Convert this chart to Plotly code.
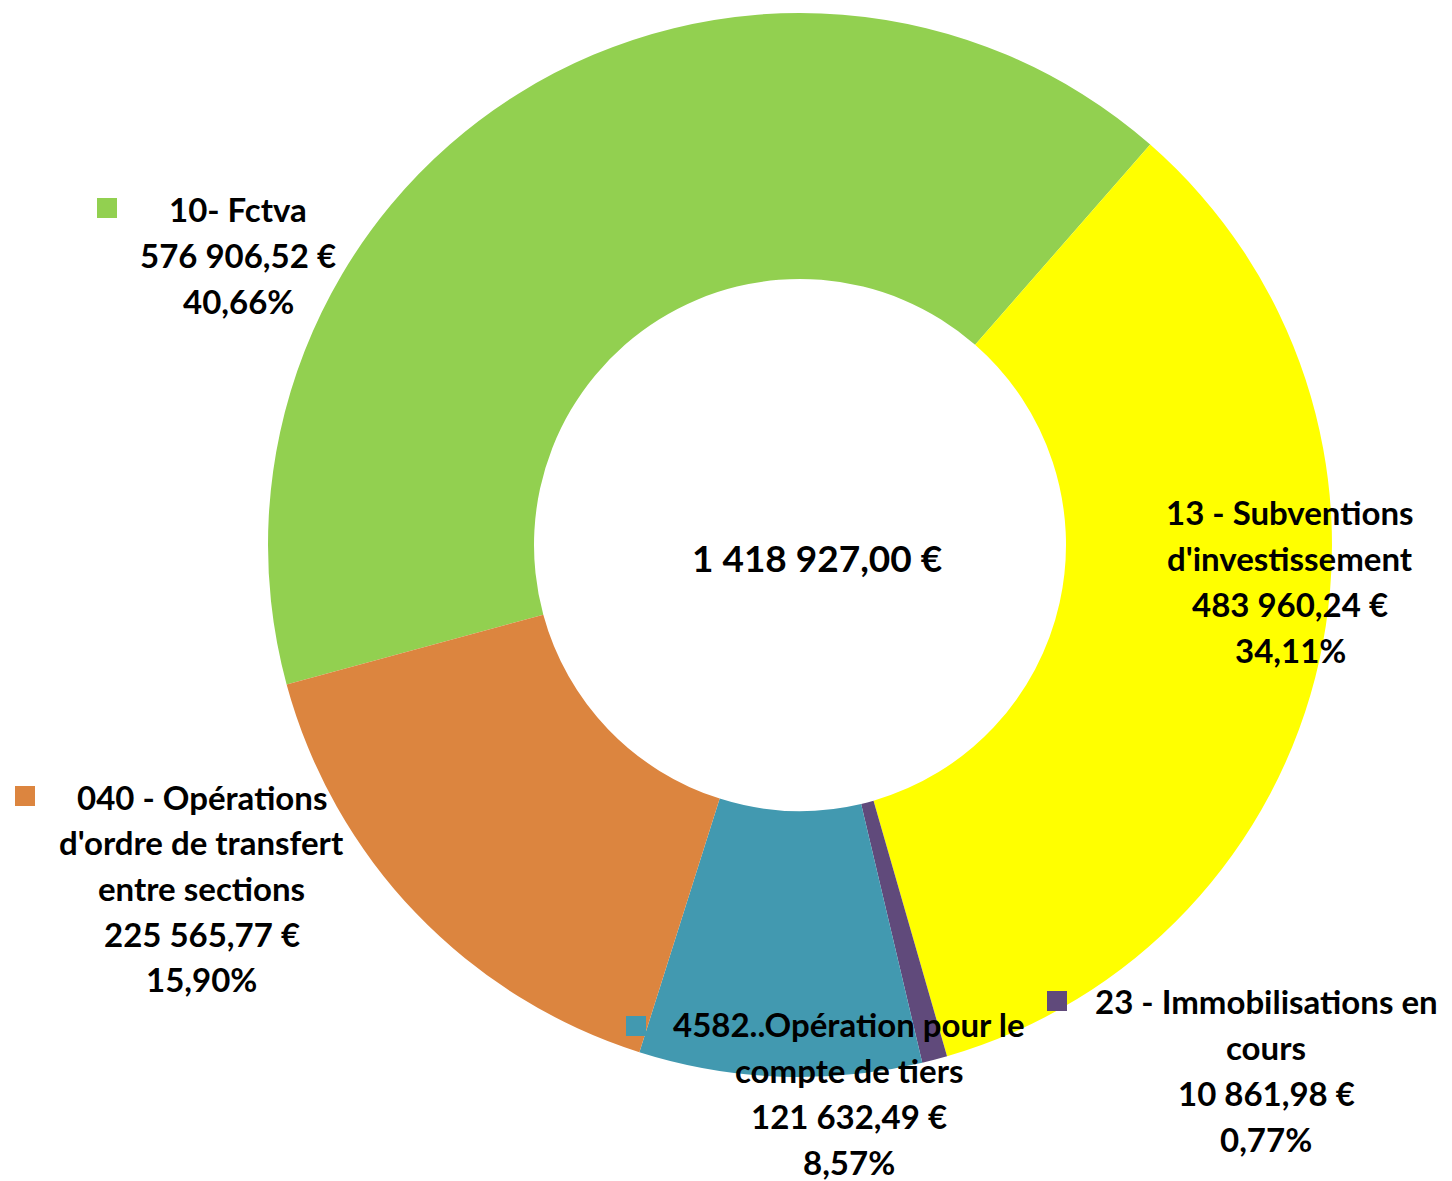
import plotly.graph_objects as go

W, H = 1452, 1181
OFF = 8  # page body margin in the browser

# slices, clockwise from the green one
labels = ["10- Fctva", "13 - Subventions d'investissement", "23 - Immobilisations en cours",
          "4582..Opération pour le compte de tiers", "040 - Opérations d'ordre de transfert entre sections"]
label_lines = [
    ["10- Fctva"],
    ["13 - Subventions", "d'investissement"],
    ["23 - Immobilisations en", "cours"],
    ["4582..Opération pour le", "compte de tiers"],
    ["040 - Opérations", "d'ordre de transfert", "entre sections"],
]
values = [576906.52, 483960.24, 10861.98, 121632.49, 225565.77]
colors = ["#92D050", "#FFFF00", "#604A7B", "#4299B0", "#DC853F"]

# label block placement (pixel centre of block, legend key square top-left)
label_pos = [(238, 255), (1290, 581), (1266, 1070), (849, 1093), (202, 888)]
key_pos = [(97, 198), (None, None), (1047, 991), (626, 1016), (15, 786)]

FONT = "Lato"
FS = 33
LINE = 45.7


def fr_money(v):
    s = f"{v:,.2f}"
    return s.replace(",", " ").replace(".", ",") + " €"


def px(x):
    return (x - OFF) / W


def py(y):
    return 1 - (y - OFF) / H


total = sum(values)

fig = go.Figure()

cx, cy, r = 800, 545, 532
fig.add_trace(go.Pie(
    labels=labels,
    values=values,
    sort=False,
    direction="clockwise",
    rotation=254.8,
    hole=0.5,
    textinfo="none",
    hoverinfo="label+value+percent",
    marker=dict(colors=colors, line=dict(width=0)),
    domain=dict(x=[px(cx - r), px(cx + r)], y=[py(cy + r), py(cy - r)]),
    showlegend=False,
))

annotations = []
shapes = []
for i, v in enumerate(values):
    pct = f"{v / total * 100:.2f}".replace(".", ",") + "%"
    lines = label_lines[i] + [fr_money(v), pct]
    bx, by = label_pos[i]
    n = len(lines)
    for k, line in enumerate(lines):
        ly = by + (k - (n - 1) / 2) * LINE
        annotations.append(dict(
            x=px(bx), y=py(ly), xref="paper", yref="paper",
            text=f"<b>{line}</b>", showarrow=False,
            xanchor="center", yanchor="middle",
            font=dict(family=FONT, size=FS, color="#000000"),
        ))
    kx, ky = key_pos[i]
    if kx is not None:
        shapes.append(dict(
            type="rect", xref="paper", yref="paper",
            x0=px(kx), x1=px(kx + 20), y0=py(ky + 20), y1=py(ky),
            fillcolor=colors[i], line=dict(width=0),
        ))

# total in the hole, a bit larger than the slice labels
annotations.append(dict(
    x=px(817), y=py(557), xref="paper", yref="paper",
    text=f"<b>{fr_money(total)}</b>", showarrow=False,
    xanchor="center", yanchor="middle",
    font=dict(family=FONT, size=37, color="#000000"),
))

fig.update_layout(
    width=W, height=H,
    margin=dict(l=0, r=0, t=0, b=0),
    paper_bgcolor="white",
    plot_bgcolor="white",
    annotations=annotations,
    shapes=shapes,
)

fig.write_html("out.html")
